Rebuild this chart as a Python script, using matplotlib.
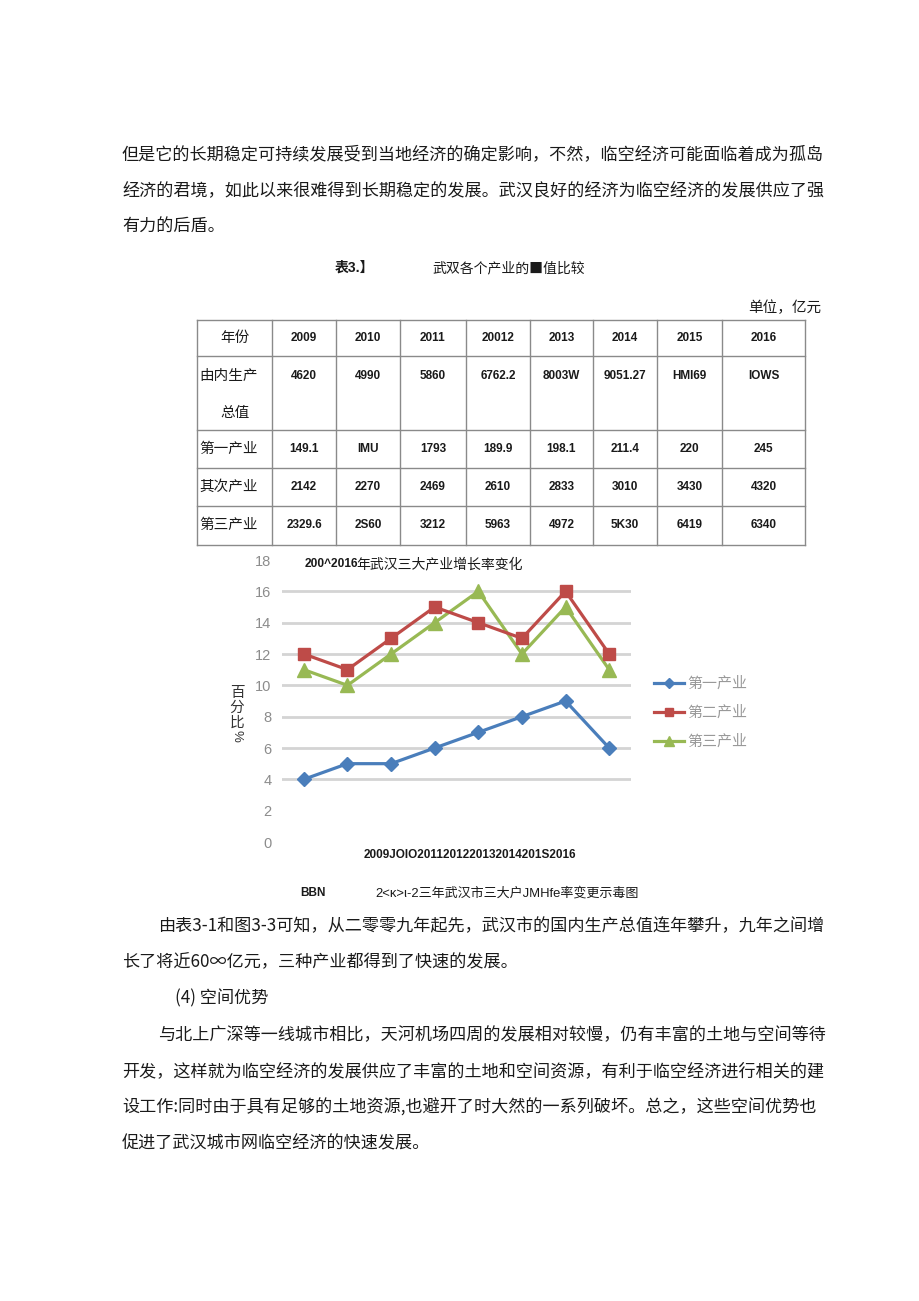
import matplotlib
matplotlib.use('Agg')
import matplotlib.pyplot as plt
from matplotlib.lines import Line2D

W, H = 920, 1301
plt.rcParams['font.family'] = ['Noto Sans CJK SC', 'DejaVu Sans']

# ---------------- data ----------------
years = ['2009', '2010', '2011', '2012', '2013', '2014', '2015', '2016']
primary_growth = [4, 5, 5, 6, 7, 8, 9, 6]
secondary_growth = [12, 11, 13, 15, 14, 13, 16, 12]
tertiary_growth = [11, 10, 12, 14, 16, 12, 15, 11]
series_names = ['第一产业', '第二产业', '第三产业']
y_ticks = list(range(0, 19, 2))
grid_values = [4, 6, 8, 10, 12, 14, 16]

table_header = ['年份', '2009', '2010', '2011', '20012', '2013', '2014', '2015', '2016']
table_gdp = ['4620', '4990', '5860', '6762.2', '8003W', '9051.27', 'HMI69', 'IOWS']
table_primary = ['149.1', 'IMU', '1793', '189.9', '198.1', '211.4', '220', '245']
table_secondary = ['2142', '2270', '2469', '2610', '2833', '3010', '3430', '4320']
table_tertiary = ['2329.6', '2S60', '3212', '5963', '4972', '5K30', '6419', '6340']
row_labels = ['由内生产', '第一产业', '其次产业', '第三产业']

para_top = ['但是它的长期稳定可持续发展受到当地经济的确定影响，不然，临空经济可能面临着成为孤岛',
            '经济的君境，如此以来很难得到长期稳定的发展。武汉良好的经济为临空经济的发展供应了强',
            '有力的后盾。']
para_mid = ['由表3-1和图3-3可知，从二零零九年起先，武汉市的国内生产总值连年攀升，九年之间增',
            '长了将近60∞亿元，三种产业都得到了快速的发展。']
heading = '(4) 空间优势'
para_bot = ['与北上广深等一线城市相比，天河机场四周的发展相对较慢，仍有丰富的土地与空间等待',
            '开发，这样就为临空经济的发展供应了丰富的土地和空间资源，有利于临空经济进行相关的建',
            '设工作:同时由于具有足够的土地资源,也避开了时大然的一系列破坏。总之，这些空间优势也',
            '促进了武汉城市网临空经济的快速发展。']

# ---------------- figure ----------------
fig = plt.figure(figsize=(W / 100, H / 100), dpi=100)
fig.patch.set_facecolor('white')


def fx(x):
    return x / W


def fy(y):
    return 1 - y / H


def T(x, y, s, **kw):
    kw.setdefault('va', 'center')
    kw.setdefault('color', '#1a1a1a')
    return fig.text(fx(x), fy(y), s, **kw)


def L(x0, y0, x1, y1, **kw):
    kw.setdefault('color', '#8a8a8a')
    kw.setdefault('lw', 1.0)
    fig.add_artist(Line2D([fx(x0), fx(x1)], [fy(y0), fy(y1)], transform=fig.transFigure, **kw))


BODY = 12.3
LAT = ['Liberation Sans', 'Noto Sans CJK SC']
LM, IND = 122, 158

# top paragraph
for i, line in enumerate(para_top):
    T(LM, 155.5 + i * 35.5, line, fontsize=BODY)

# table caption
T(335, 268, '表3.】', fontsize=10, family=LAT, fontweight='bold')
T(432, 268, '武双各个产业的■值比较', fontsize=10)
T(821, 308, '单位，亿元', fontsize=10.5, ha='right')

# table grid
cols = [197, 272, 336, 400, 466, 530, 593, 657, 722, 805]
rows = [320, 356, 430, 468, 506, 545]
for r in rows:
    L(cols[0], r, cols[-1], r)
for c in cols:
    L(c, rows[0], c, rows[-1])

centers = [(cols[i] + cols[i + 1]) / 2 for i in range(len(cols) - 1)]
NUM = dict(fontsize=8.5, family=LAT, fontweight='bold', ha='center')
T(centers[0], 338, table_header[0], fontsize=10.5, ha='center')
for c, s in zip(centers[1:], table_header[1:]):
    T(c, 338, s, **NUM)

T(199, 376, row_labels[0], fontsize=10.5)
T(centers[0], 413, '总值', fontsize=10.5, ha='center')
for c, s in zip(centers[1:], table_gdp):
    T(c, 376, s, **NUM)

for lab, vals, y in zip(row_labels[1:], [table_primary, table_secondary, table_tertiary], [449, 487, 525]):
    T(199, y, lab, fontsize=10.5)
    for c, s in zip(centers[1:], vals):
        T(c, y, s, **NUM)

# ---------------- chart ----------------
blue, red, green = '#4A7EBB', '#BE4B48', '#98B954'
ax = fig.add_axes([fx(282), fy(842), 349 / W, 282 / H])
xs = list(range(len(years)))
l1, = ax.plot(xs, primary_growth, color=blue, lw=2.3, marker='D', ms=7.5, zorder=4, label=series_names[0])
l3, = ax.plot(xs, tertiary_growth, color=green, lw=2.3, marker='^', ms=9.5, zorder=3, label=series_names[2])
l2, = ax.plot(xs, secondary_growth, color=red, lw=2.3, marker='s', ms=8.5, zorder=3.5, label=series_names[1])
for v in grid_values:
    ax.axhline(v, color='#d4d4d4', lw=2.0, zorder=1)
ax.set_xlim(-0.5, len(years) - 0.5)
ax.set_ylim(0, 18)
ax.set_yticks(y_ticks)
ax.set_xticks([])
for sp in ax.spines.values():
    sp.set_visible(False)
ax.tick_params(axis='y', left=False, labelsize=10.5, labelcolor='#8c8c8c', pad=4)
for lbl in ax.get_yticklabels():
    lbl.set_family('Liberation Sans')
ax.patch.set_alpha(0)

leg = ax.legend(handles=[l1, l2, l3], loc='center left', bbox_to_anchor=(fx(654), fy(713)),
                bbox_transform=fig.transFigure, frameon=False, fontsize=10.8,
                labelcolor='#999999', handlelength=2.0, handletextpad=0.25,
                labelspacing=0.98, borderpad=0, borderaxespad=0, markerscale=0.7)

T(305, 564, '200^2016', fontsize=8.6, fontweight='bold', family=LAT)
T(356, 564, '年武汉三大产业增长率变化', fontsize=10)
T(237, 708, '百\n分\n比', fontsize=10.5, ha='center', linespacing=1.1, color='#333333')
T(237, 736, '%', fontsize=9.5, ha='center', rotation=270, color='#333333', family=LAT)
T(470, 855, '2009JOIO2011201220132014201S2016', fontsize=8.5, fontweight='bold', family=LAT, ha='center')

# figure caption
T(300, 893, 'BBN', fontsize=8.5, fontweight='bold', family=LAT)
T(375, 893, '2<κ>ι-2三年武汉市三大户JMHfe率变更示毒图', fontsize=9.4, family=LAT)

# lower text
T(IND, 926.5, para_mid[0], fontsize=BODY)
T(LM, 962.5, para_mid[1], fontsize=BODY)
T(175, 998.5, heading, fontsize=BODY)
T(IND, 1035, para_bot[0], fontsize=BODY)
for i, line in enumerate(para_bot[1:]):
    T(LM, 1071.5 + i * 36, line, fontsize=BODY)

fig.savefig('out.png', dpi=100, facecolor='white')
